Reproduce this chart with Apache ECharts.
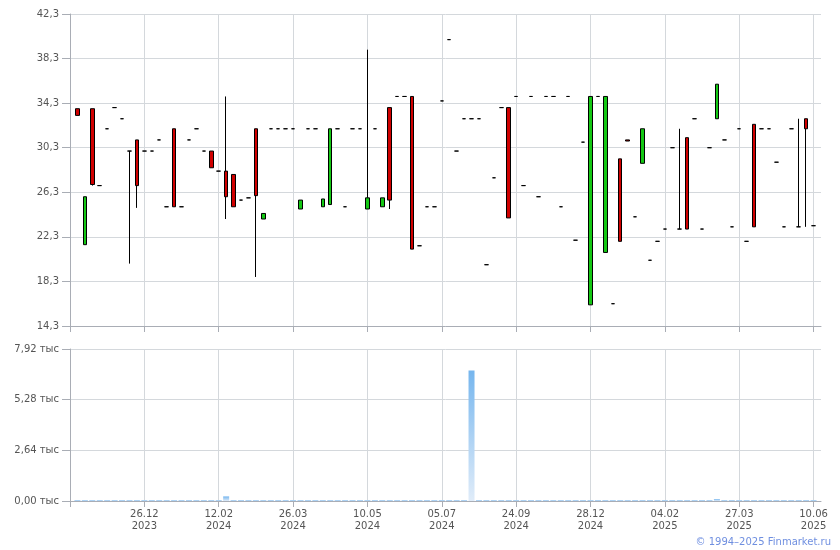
<!DOCTYPE html>
<html><head><meta charset="utf-8">
<script src="https://cdn.jsdelivr.net/npm/echarts@6/dist/echarts.min.js"></script>
<style>html,body{margin:0;padding:0;background:#fff}#c{width:840px;height:550px}</style>
</head><body><div id="c"></div>
<script>
// Labelled dates (every 10th trading slot)
const tickDates = ['26.12.2023','12.02.2024','26.03.2024','10.05.2024','05.07.2024','24.09.2024','28.12.2024','04.02.2025','27.03.2025','10.06.2025'];
const firstLabelSlot = 9, labelStep = 10;

const opens = [33.8,21.6,33.8,26.9,32.0,33.9,32.9,30.0,31.0,30.0, 30.0,31.0,25.0,32.0,25.0,31.0,32.0,30.0,30.0,28.2, 28.2,27.9,25.6,25.8,32.0,23.9,32.0,32.0,32.0,32.0, 24.8,32.0,32.0,25.0,25.2,32.0,25.0,32.0,32.0,24.8, 32.0,25.0,33.9,34.9,34.9,34.9,21.5,25.0,25.0,34.5, 40.0,30.0,32.9,32.9,32.9,19.8,27.6,33.9,33.9,34.9, 26.9,34.9,25.9,34.9,34.9,25.0,34.9,22.0,30.8,16.2, 34.9,20.9,16.3,29.3,31.0,24.1,28.9,20.2,21.9,23.0, 30.3,23.0,31.2,32.9,23.0,30.3,32.9,31.0,23.2,32.0, 21.9,32.4,32.0,32.0,29.0,23.2,32.0,23.2,32.9,23.3];
const closes = [33.2,25.9,27.0,26.9,32.0,33.9,32.9,30.0,26.9,30.0, 30.0,31.0,25.0,25.0,25.0,31.0,32.0,30.0,28.5,28.2, 25.9,25.0,25.6,25.8,26.0,24.4,32.0,32.0,32.0,32.0, 25.6,32.0,32.0,25.7,32.0,32.0,25.0,32.0,32.0,25.8, 32.0,25.8,25.6,34.9,34.9,21.2,21.5,25.0,25.0,34.5, 40.0,30.0,32.9,32.9,32.9,19.8,27.6,33.9,24.0,34.9, 26.9,34.9,25.9,34.9,34.9,25.0,34.9,22.0,30.8,34.9, 34.9,34.9,16.3,21.9,30.9,24.1,32.0,20.2,21.9,23.0, 30.3,23.0,23.0,32.9,23.0,30.3,36.0,31.0,23.2,32.0, 21.9,23.2,32.0,32.0,29.0,23.2,32.0,23.2,32.0,23.3];
const lows = [33.2,21.6,26.9,26.9,32.0,33.9,32.9,19.9,24.9,30.0, 30.0,31.0,25.0,25.0,25.0,31.0,32.0,30.0,28.5,28.2, 23.9,25.0,25.6,25.8,18.7,23.9,32.0,32.0,32.0,32.0, 24.8,32.0,32.0,25.0,25.2,32.0,25.0,32.0,32.0,24.8, 32.0,25.0,24.8,34.9,34.9,21.2,21.5,25.0,25.0,34.5, 40.0,30.0,32.9,32.9,32.9,19.8,27.6,33.9,24.0,34.9, 26.9,34.9,25.9,34.9,34.9,25.0,34.9,22.0,30.8,16.2, 34.9,20.9,16.3,21.9,30.9,24.1,28.9,20.2,21.9,23.0, 30.3,23.0,23.0,32.9,23.0,30.3,32.9,31.0,23.2,32.0, 21.9,23.2,32.0,32.0,29.0,23.2,32.0,23.2,23.2,23.3];
const highs = [33.8,25.9,33.8,26.9,32.0,33.9,32.9,30.0,31.0,30.0, 30.0,31.0,25.0,32.0,25.0,31.0,32.0,30.0,30.0,28.2, 34.9,27.9,25.6,25.8,32.0,24.4,32.0,32.0,32.0,32.0, 25.6,32.0,32.0,25.7,32.0,32.0,25.0,32.0,32.0,39.1, 32.0,25.8,33.9,34.9,34.9,34.9,21.5,25.0,25.0,34.5, 40.0,30.0,32.9,32.9,32.9,19.8,27.6,33.9,33.9,34.9, 26.9,34.9,25.9,34.9,34.9,25.0,34.9,22.0,30.8,34.9, 34.9,34.9,16.3,29.3,31.0,24.1,32.0,20.2,21.9,23.0, 30.3,32.0,31.2,32.9,23.0,30.3,36.0,31.0,23.2,32.0, 21.9,32.4,32.0,32.0,29.0,23.2,32.0,32.9,32.9,23.3];
const volumes = [50,50,50,50,50,50,50,50,50,50, 50,50,50,50,50,50,50,50,50,50, 240,50,50,50,50,50,50,50,50,50, 50,50,50,50,50,50,50,50,50,50, 50,50,50,50,50,50,50,50,50,50, 50,50,50,6800,50,50,50,50,50,50, 50,50,50,50,50,50,50,50,50,50, 50,50,50,50,50,50,50,50,50,50, 50,50,50,50,50,50,100,50,50,50, 50,50,50,50,50,50,50,50,50,50];

const priceMin = 14.3, priceMax = 42.3, priceStep = 4;
const volMin = 0, volMax = 7920, volStep = 2640;

// one empty slot on each side of the data
const cats = ['pad0'];
opens.forEach((_, i) => cats.push('s' + i));
cats.push('pad1');
const labelMap = {};
tickDates.forEach((d, k) => {
  const p = d.split('.');
  labelMap[firstLabelSlot + k * labelStep + 1] = p[0] + '.' + p[1] + '\n' + p[2];
});
const empty4 = ['-','-','-','-'];
const candleData = [empty4].concat(opens.map((o, i) => [o, closes[i], lows[i], highs[i]])).concat([empty4]);
const volData = ['-'].concat(volumes).concat(['-']);

const FONT = 'DejaVu Sans';
const GRID_C = '#d4d8dc', AXIS_C = '#a9adb5', TEXT_C = '#555';
const isLbl = (i) => labelMap[i] !== undefined;
const isTick = (i) => i === 0 || isLbl(i);

function xAxis(gridIndex, showLabels) {
  return {
    type: 'category', gridIndex, data: cats, boundaryGap: false,
    axisLine: { lineStyle: { color: AXIS_C } },
    axisTick: { show: true, interval: (i) => isTick(i), length: 6, lineStyle: { color: AXIS_C } },
    axisLabel: { show: showLabels, interval: (i) => isLbl(i), formatter: (v, i) => labelMap[i] || '',
      color: TEXT_C, fontFamily: FONT, fontSize: 10, lineHeight: 12, margin: 7 },
    splitLine: { show: true, interval: (i) => isLbl(i), lineStyle: { color: GRID_C } }
  };
}

const chart = echarts.init(document.getElementById('c'), null, { renderer: 'canvas' });
chart.setOption({
  animation: false,
  backgroundColor: '#fff',
  grid: [
    { left: 70, right: 19, top: 14, height: 312 },
    { left: 70, right: 19, top: 349, height: 152 }
  ],
  xAxis: [xAxis(0, false), xAxis(1, true)],
  yAxis: [
    { type: 'value', gridIndex: 0, min: priceMin, max: priceMax, interval: priceStep,
      axisLine: { show: true, lineStyle: { color: AXIS_C } },
      axisTick: { show: true, length: 8, lineStyle: { color: AXIS_C } },
      axisLabel: { color: TEXT_C, fontFamily: FONT, fontSize: 10, margin: 11,
        formatter: (v) => v.toFixed(1).replace('.', ',') },
      splitLine: { lineStyle: { color: GRID_C } } },
    { type: 'value', gridIndex: 1, min: volMin, max: volMax, interval: volStep,
      axisLine: { show: true, lineStyle: { color: AXIS_C } },
      axisTick: { show: true, length: 8, lineStyle: { color: AXIS_C } },
      axisLabel: { color: TEXT_C, fontFamily: FONT, fontSize: 10, margin: 11,
        formatter: (v) => (v / 1000).toFixed(2).replace('.', ',') + ' тыс' },
      splitLine: { lineStyle: { color: GRID_C } } }
  ],
  series: [
    { type: 'candlestick', xAxisIndex: 0, yAxisIndex: 0, data: candleData, barWidth: 4,
      itemStyle: { color: '#14c814', color0: '#d00000', borderColor: '#000', borderColor0: '#000', borderWidth: 1 } },
    { type: 'bar', xAxisIndex: 1, yAxisIndex: 1, data: volData, barWidth: 6,
      itemStyle: { color: new echarts.graphic.LinearGradient(0, 0, 0, 1, [
        { offset: 0, color: '#76b6ee' }, { offset: 1, color: '#e0ecf9' } ]) } }
  ],
  graphic: [
    { type: 'text', right: 9, top: 537,
      style: { text: '© 1994–2025 Finmarket.ru', fill: '#6f8fe0', font: '10px "DejaVu Sans"' } }
  ]
});
</script>
</body></html>
